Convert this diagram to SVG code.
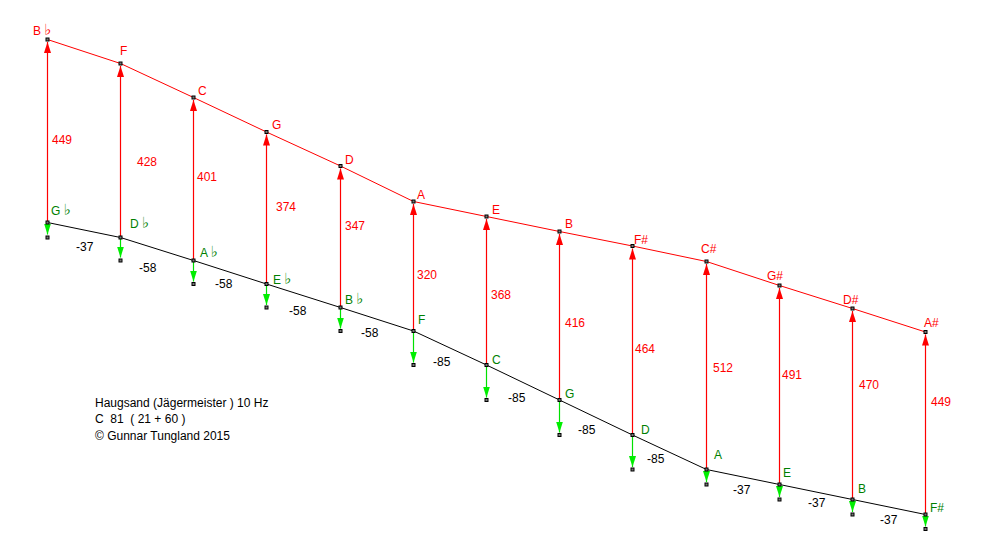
<svg xmlns="http://www.w3.org/2000/svg" width="988" height="551" viewBox="0 0 988 551">
<style>
text{font-family:"Liberation Sans",Arial,sans-serif;font-size:12px;}
.fl{font-family:"DejaVu Sans",sans-serif;font-size:15px;}
.r{fill:#ff0000;}
.g{fill:#007f00;}
.k{fill:#000000;}
.pre{white-space:pre;}
.rl{stroke:#ff0000;stroke-width:1;fill:none;}
.kl{stroke:#000000;stroke-width:1;fill:none;}
.up{stroke:#ff0000;stroke-width:1.2;marker-end:url(#ar);}
.dn{stroke:#00e000;stroke-width:1.2;marker-end:url(#ag);}
.d{fill:#777;stroke:#000;stroke-width:1;}
</style>
<defs>
<marker id="ar" markerUnits="userSpaceOnUse" markerWidth="12" markerHeight="8" refX="11" refY="3.5" orient="auto">
<path d="M0,0 L11,3.5 L0,7 z" fill="#ff0000"/>
</marker>
<marker id="ag" markerUnits="userSpaceOnUse" markerWidth="12" markerHeight="8" refX="11" refY="3.5" orient="auto">
<path d="M0,0 L11,3.5 L0,7 z" fill="#00ee00"/>
</marker>
<rect id="dot" x="-1.5" y="-1.5" width="3" height="3"/>
</defs>
<rect width="988" height="551" fill="#ffffff"/>
<g id="connectors">
<polyline class="rl" points="47.5,39.5 120.5,63.5 193.5,97.5 266.5,132 340.5,166 413.5,201.5 486.5,216.5 559.5,231.5 632.5,246 706.5,261.5 779.5,285.5 852.5,308.5 925.5,332"/>
<polyline class="kl" points="47.5,222.5 120.5,237.5 193.5,260.5 266.5,284 340.5,307.5 413.5,331 486.5,365 559.5,400 632.5,435 706.5,469.5 779.5,484.5 852.5,499.5 925.5,514.5"/>
<line class="up" x1="47.5" y1="222.5" x2="47.5" y2="42"/>
<line class="up" x1="120.5" y1="237.5" x2="120.5" y2="66"/>
<line class="up" x1="193.5" y1="260.5" x2="193.5" y2="100"/>
<line class="up" x1="266.5" y1="284" x2="266.5" y2="134.5"/>
<line class="up" x1="340.5" y1="307.5" x2="340.5" y2="168.5"/>
<line class="up" x1="413.5" y1="331" x2="413.5" y2="204"/>
<line class="up" x1="486.5" y1="365" x2="486.5" y2="219"/>
<line class="up" x1="559.5" y1="400" x2="559.5" y2="234"/>
<line class="up" x1="632.5" y1="435" x2="632.5" y2="248.5"/>
<line class="up" x1="706.5" y1="469.5" x2="706.5" y2="264"/>
<line class="up" x1="779.5" y1="484.5" x2="779.5" y2="288"/>
<line class="up" x1="852.5" y1="499.5" x2="852.5" y2="311"/>
<line class="up" x1="925.5" y1="514.5" x2="925.5" y2="334.5"/>
<line class="dn" x1="47.5" y1="222.5" x2="47.5" y2="234.5"/>
<line class="dn" x1="120.5" y1="237.5" x2="120.5" y2="257.5"/>
<line class="dn" x1="193.5" y1="260.5" x2="193.5" y2="281.5"/>
<line class="dn" x1="266.5" y1="284" x2="266.5" y2="305"/>
<line class="dn" x1="340.5" y1="307.5" x2="340.5" y2="328.5"/>
<line class="dn" x1="413.5" y1="331" x2="413.5" y2="362.5"/>
<line class="dn" x1="486.5" y1="365" x2="486.5" y2="397.5"/>
<line class="dn" x1="559.5" y1="400" x2="559.5" y2="432.5"/>
<line class="dn" x1="632.5" y1="435" x2="632.5" y2="467"/>
<line class="dn" x1="706.5" y1="469.5" x2="706.5" y2="482"/>
<line class="dn" x1="779.5" y1="484.5" x2="779.5" y2="497"/>
<line class="dn" x1="852.5" y1="499.5" x2="852.5" y2="512"/>
<line class="dn" x1="925.5" y1="514.5" x2="925.5" y2="526.5"/>
</g>
<g id="top-notes">
<g id="n-Bb-top"><use href="#dot" x="47.5" y="39.5" class="d"/><text class="r" x="33" y="35">B <tspan class="fl">♭</tspan></text><text class="r" x="52" y="144">449</text></g>
<g id="n-F-top"><use href="#dot" x="120.5" y="63.5" class="d"/><text class="r" x="120" y="55">F</text><text class="r" x="137" y="166">428</text></g>
<g id="n-C-top"><use href="#dot" x="193.5" y="97.5" class="d"/><text class="r" x="198" y="95">C</text><text class="r" x="197" y="181">401</text></g>
<g id="n-G-top"><use href="#dot" x="266.5" y="132" class="d"/><text class="r" x="272" y="129">G</text><text class="r" x="276" y="211">374</text></g>
<g id="n-D-top"><use href="#dot" x="340.5" y="166" class="d"/><text class="r" x="345" y="164">D</text><text class="r" x="345" y="230">347</text></g>
<g id="n-A-top"><use href="#dot" x="413.5" y="201.5" class="d"/><text class="r" x="417" y="199">A</text><text class="r" x="417" y="279">320</text></g>
<g id="n-E-top"><use href="#dot" x="486.5" y="216.5" class="d"/><text class="r" x="492" y="214">E</text><text class="r" x="491" y="299">368</text></g>
<g id="n-B-top"><use href="#dot" x="559.5" y="231.5" class="d"/><text class="r" x="565" y="228">B</text><text class="r" x="565" y="327">416</text></g>
<g id="n-Fs-top"><use href="#dot" x="632.5" y="246" class="d"/><text class="r" x="634" y="244">F#</text><text class="r" x="635" y="353">464</text></g>
<g id="n-Cs-top"><use href="#dot" x="706.5" y="261.5" class="d"/><text class="r" x="701" y="253">C#</text><text class="r" x="713" y="372">512</text></g>
<g id="n-Gs-top"><use href="#dot" x="779.5" y="285.5" class="d"/><text class="r" x="767" y="280">G#</text><text class="r" x="782" y="379">491</text></g>
<g id="n-Ds-top"><use href="#dot" x="852.5" y="308.5" class="d"/><text class="r" x="843" y="304">D#</text><text class="r" x="859" y="389">470</text></g>
<g id="n-As-top"><use href="#dot" x="925.5" y="332" class="d"/><text class="r" x="924" y="327">A#</text><text class="r" x="931" y="406">449</text></g>
</g>
<g id="bottom-notes">
<g id="n-Gb"><use href="#dot" x="47.5" y="222.5" class="d"/><use href="#dot" x="47.5" y="237.5" class="d"/><text class="g" x="51" y="215">G <tspan class="fl">♭</tspan></text></g>
<g id="n-Db"><use href="#dot" x="120.5" y="237.5" class="d"/><use href="#dot" x="120.5" y="260.5" class="d"/><text class="g" x="130" y="228">D <tspan class="fl">♭</tspan></text></g>
<g id="n-Ab"><use href="#dot" x="193.5" y="260.5" class="d"/><use href="#dot" x="193.5" y="284" class="d"/><text class="g" x="200" y="257">A <tspan class="fl">♭</tspan></text></g>
<g id="n-Eb"><use href="#dot" x="266.5" y="284" class="d"/><use href="#dot" x="266.5" y="307.5" class="d"/><text class="g" x="273" y="284">E <tspan class="fl">♭</tspan></text></g>
<g id="n-Bb"><use href="#dot" x="340.5" y="307.5" class="d"/><use href="#dot" x="340.5" y="331" class="d"/><text class="g" x="345" y="304">B <tspan class="fl">♭</tspan></text></g>
<g id="n-F"><use href="#dot" x="413.5" y="331" class="d"/><use href="#dot" x="413.5" y="365" class="d"/><text class="g" x="418" y="324">F</text></g>
<g id="n-C"><use href="#dot" x="486.5" y="365" class="d"/><use href="#dot" x="486.5" y="400" class="d"/><text class="g" x="492" y="364">C</text></g>
<g id="n-G"><use href="#dot" x="559.5" y="400" class="d"/><use href="#dot" x="559.5" y="435" class="d"/><text class="g" x="565" y="398">G</text></g>
<g id="n-D"><use href="#dot" x="632.5" y="435" class="d"/><use href="#dot" x="632.5" y="469.5" class="d"/><text class="g" x="641" y="434">D</text></g>
<g id="n-A"><use href="#dot" x="706.5" y="469.5" class="d"/><use href="#dot" x="706.5" y="484.5" class="d"/><text class="g" x="714" y="459">A</text></g>
<g id="n-E"><use href="#dot" x="779.5" y="484.5" class="d"/><use href="#dot" x="779.5" y="499.5" class="d"/><text class="g" x="783" y="477">E</text></g>
<g id="n-B"><use href="#dot" x="852.5" y="499.5" class="d"/><use href="#dot" x="852.5" y="514.5" class="d"/><text class="g" x="858" y="493">B</text></g>
<g id="n-Fs"><use href="#dot" x="925.5" y="514.5" class="d"/><use href="#dot" x="925.5" y="529" class="d"/><text class="g" x="930" y="512">F#</text></g>
</g>
<g id="intervals">
<text class="k" x="76" y="251">-37</text>
<text class="k" x="139" y="272">-58</text>
<text class="k" x="215" y="288">-58</text>
<text class="k" x="289" y="315">-58</text>
<text class="k" x="361" y="337">-58</text>
<text class="k" x="433" y="366">-85</text>
<text class="k" x="508" y="402">-85</text>
<text class="k" x="578" y="434">-85</text>
<text class="k" x="647" y="463">-85</text>
<text class="k" x="733" y="494">-37</text>
<text class="k" x="808" y="507">-37</text>
<text class="k" x="880" y="524">-37</text>
</g>
<g id="caption">
<text class="k pre" x="95" y="407" xml:space="preserve">Haugsand (Jägermeister ) 10 Hz</text>
<text class="k pre" x="95" y="423" xml:space="preserve">C  81  ( 21 + 60 )</text>
<text class="k pre" x="95" y="440" xml:space="preserve">© Gunnar Tungland 2015</text>
</g>
</svg>
